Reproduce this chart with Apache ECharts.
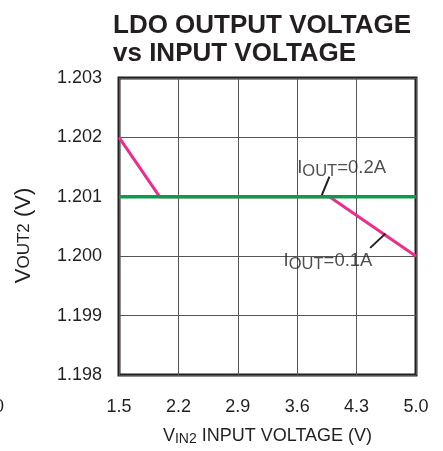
<!DOCTYPE html>
<html>
<head>
<meta charset="UTF-8">
<title>LDO Output Voltage vs Input Voltage</title>
<script src="https://cdn.jsdelivr.net/npm/echarts@6/dist/echarts.min.js"></script>
</head>
<body style="margin:0;background:#fff;">
<div id="container" style="width:443px;height:451px;"></div>
<script>
// input voltage ticks and read-off curves
var xTicks = [1.5, 2.2, 2.9, 3.6, 4.3, 5.0];
var iout02 = [[1.5, 1.201], [5.0, 1.201]];
var iout01 = [[1.5, 1.202], [1.98, 1.201], [3.98, 1.201], [5.0, 1.200]];
// annotation anchors (data units)
var labels = [
  {name: '0.2A', at: [3.6, 1.20148]},
  {name: '0.1A', at: [3.44, 1.19992]}
];
var leaders = [
  [[3.98, 1.20134], [3.89, 1.20103]],
  [[4.46, 1.20014], [4.64, 1.20038]]
];

var ink = '#231f20';
var font = 'Liberation Sans';
var chart = echarts.init(document.getElementById('container'));

var option = {
  animation: false,
  title: {
    text: 'LDO OUTPUT VOLTAGE\nvs INPUT VOLTAGE',
    left: 108,
    top: 7,
    textStyle: {fontFamily: font, fontWeight: 'bold', fontSize: 26, lineHeight: 28, color: ink}
  },
  grid: {left: 119, right: 27, top: 78, bottom: 74, show: true, borderColor: ink, borderWidth: 3},
  xAxis: {
    type: 'value',
    min: 1.5,
    max: 5.0,
    axisLine: {show: false},
    axisTick: {show: false, customValues: xTicks},
    axisLabel: {
      customValues: xTicks,
      margin: 23,
      fontSize: 18,
      color: ink,
      fontFamily: font,
      formatter: function (v) { return v.toFixed(1); }
    },
    splitLine: {show: true, lineStyle: {color: '#555', width: 1}},
    name: '{big|V}{sub|IN2}{big| INPUT VOLTAGE (V)}',
    nameLocation: 'middle',
    nameGap: 52,
    nameTextStyle: {rich: {
      big: {fontSize: 18, color: ink, fontFamily: font},
      sub: {fontSize: 14, color: ink, fontFamily: font, padding: [5, 0, 0, 0]}
    }}
  },
  yAxis: {
    type: 'value',
    min: 1.198,
    max: 1.203,
    interval: 0.001,
    axisLine: {show: false},
    axisTick: {show: false},
    axisLabel: {
      margin: 17,
      fontSize: 18,
      color: ink,
      fontFamily: font,
      formatter: function (v) { return v.toFixed(3); }
    },
    splitLine: {show: true, lineStyle: {color: '#555', width: 1}},
    name: '{big|V}{sm|OUT2}{big| (V)}',
    nameLocation: 'middle',
    nameGap: 84,
    nameRotate: 90,
    nameTextStyle: {
      padding: [0, 18, 0, 0],
      rich: {
        big: {fontSize: 22, color: ink, fontFamily: font},
        sm: {fontSize: 17, color: ink, fontFamily: font}
      }
    }
  },
  graphic: [
    {type: 'text', left: -6, top: 398, style: {text: '0', fontSize: 18, fill: ink, fontFamily: font}}
  ],
  series: [
    {
      type: 'line',
      data: iout02,
      symbol: 'none',
      lineStyle: {color: '#0b9b4a', width: 3.5},
      z: 3
    },
    {
      type: 'line',
      data: iout01,
      symbol: 'none',
      lineStyle: {color: '#ec2d8c', width: 3},
      z: 2
    },
    {
      type: 'scatter',
      symbolSize: 0,
      data: labels.map(function (l) { return {value: l.at, name: l.name}; }),
      label: {
        show: true,
        position: 'right',
        distance: 0,
        formatter: function (p) { return '{big|I}{sub|OUT}{big|=' + p.name + '}'; },
        rich: {
          big: {fontSize: 18.5, color: ink, fontFamily: font},
          sub: {fontSize: 16.5, color: ink, fontFamily: font, padding: [7, 0, 0, 0]}
        }
      },
      silent: true,
      z: 5
    }
  ].concat(leaders.map(function (seg) {
    return {
      type: 'line',
      data: seg,
      symbol: 'none',
      lineStyle: {color: ink, width: 2},
      silent: true,
      z: 4
    };
  }))
};

chart.setOption(option);
</script>
</body>
</html>
